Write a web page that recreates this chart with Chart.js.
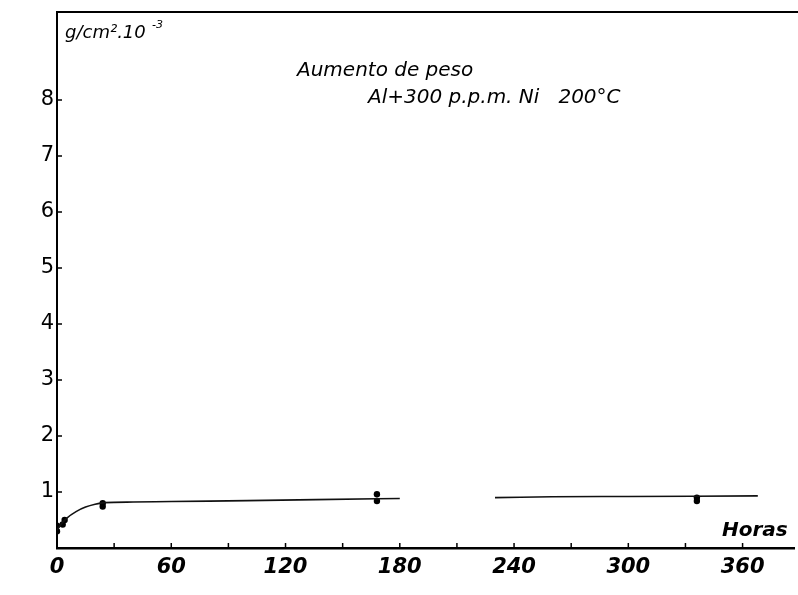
<!DOCTYPE html>
<html>
<head>
<meta charset="utf-8">
<script src="https://cdn.jsdelivr.net/npm/chart.js@4.4.1/dist/chart.umd.min.js"></script>
<style>
  html, body { margin: 0; padding: 0; background: #fff; }
  #wrap { width: 798px; height: 595px; }
</style>
</head>
<body>
<div id="wrap"><canvas id="chart" width="798" height="595"></canvas></div>
<script>
// measured points (hours, g/cm2 x 10^-3)
const pointHours = [0, 0, 3, 4, 24, 24, 168, 168, 336, 336];
const pointGain = [0.3, 0.4, 0.42, 0.5, 0.74, 0.8, 0.84, 0.96, 0.84, 0.9];

// hand-drawn fitted curve
const curveHours = [0, 2, 5, 10, 15, 20, 25, 40, 60, 100, 168, 180, 230, 260, 300, 368];
const curveGain = [0.32, 0.42, 0.53, 0.65, 0.73, 0.78, 0.81, 0.82, 0.83, 0.845, 0.88, 0.885, 0.9, 0.915, 0.92, 0.93];

const xLabels = [0, 60, 120, 180, 240, 300, 360];
const yLabels = [1, 2, 3, 4, 5, 6, 7, 8];

const toXY = (xs, ys) => xs.map((x, i) => ({ x: x, y: ys[i] }));

// inward tick marks, top frame line and the lettering
const frame = {
  id: 'frame',
  afterDraw(chart) {
    const { ctx, chartArea: a, scales: { x, y } } = chart;
    ctx.save();
    ctx.strokeStyle = '#000';
    ctx.lineWidth = 2;
    ctx.beginPath();
    ctx.moveTo(a.left - 1, a.top);
    ctx.lineTo(798, a.top);
    ctx.stroke();

    ctx.lineWidth = 1.5;
    ctx.beginPath();
    for (let h = 30; h <= 360; h += 30) {
      const px = x.getPixelForValue(h);
      ctx.moveTo(px, a.bottom);
      ctx.lineTo(px, a.bottom - 5);
    }
    yLabels.forEach(v => {
      const py = y.getPixelForValue(v);
      ctx.moveTo(a.left, py);
      ctx.lineTo(a.left + 5, py);
    });
    ctx.stroke();

    ctx.fillStyle = '#000';
    ctx.textBaseline = 'alphabetic';
    ctx.font = 'italic 18px "DejaVu Sans"';
    ctx.fillText('g/cm².10', 65, 38);
    ctx.font = 'italic 11px "DejaVu Sans"';
    ctx.fillText('-3', 152, 28);

    ctx.font = 'italic 20px "DejaVu Sans"';
    ctx.fillText('Aumento de peso', 297, 76);
    ctx.fillText('Al+300 p.p.m. Ni   200°C', 368, 103);

    ctx.font = 'italic bold 20px "DejaVu Sans"';
    ctx.fillText('Horas', 722, 536);
    ctx.restore();
  }
};

new Chart(document.getElementById('chart'), {
  type: 'scatter',
  data: {
    datasets: [
      {
        type: 'line',
        data: toXY(curveHours, curveGain),
        borderColor: '#111',
        borderWidth: 1.6,
        pointRadius: 0,
        cubicInterpolationMode: 'monotone',
        segment: {
          borderColor: c => (c.p0.parsed.x >= 180 && c.p1.parsed.x <= 230) ? 'rgba(0,0,0,0)' : '#111'
        }
      },
      {
        data: toXY(pointHours, pointGain),
        pointStyle: 'circle',
        pointRadius: 3.2,
        backgroundColor: '#000',
        borderColor: '#000',
        borderWidth: 0
      }
    ]
  },
  options: {
    responsive: false,
    animation: false,
    layout: { padding: { top: 12, right: 0, left: 0, bottom: 0 } },
    plugins: { legend: { display: false }, tooltip: { enabled: false } },
    scales: {
      x: {
        type: 'linear',
        min: 0,
        max: 387,
        afterFit: s => { s.height = 47; s.paddingLeft = 0; s.paddingRight = 0; },
        grid: { display: false, drawTicks: false },
        border: { display: true, color: '#000', width: 2.5 },
        ticks: {
          stepSize: 30,
          includeBounds: false,
          padding: 7,
          maxRotation: 0,
          autoSkip: false,
          color: '#000',
          font: { family: 'DejaVu Sans', size: 21, style: 'italic', weight: 'bold' },
          callback: v => xLabels.includes(v) ? String(v) : ''
        }
      },
      y: {
        min: 0,
        max: 9.57,
        afterFit: s => { s.width = 57; s.paddingTop = 0; s.paddingBottom = 0; },
        grid: { display: false, drawTicks: false },
        border: { display: true, color: '#000', width: 2 },
        ticks: {
          stepSize: 1,
          includeBounds: false,
          padding: 3,
          color: '#000',
          font: { family: 'DejaVu Sans', size: 21 },
          callback: v => yLabels.includes(v) ? String(v) : ''
        }
      }
    }
  },
  plugins: [frame]
});
</script>
</body>
</html>
